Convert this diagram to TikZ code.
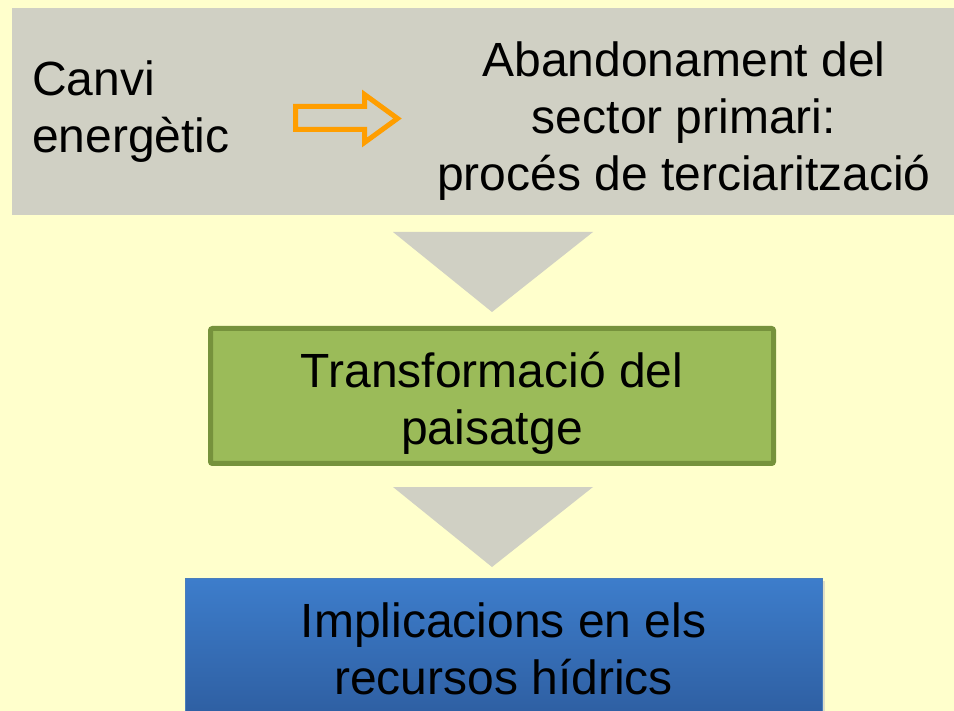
\documentclass[tikz,border=0pt]{standalone}
\usepackage{fontspec}
\setmainfont{Liberation Sans}
\definecolor{bgyellow}{RGB}{255,255,204}
\definecolor{boxgray}{RGB}{208,208,196}
\definecolor{arroworange}{RGB}{255,158,0}
\definecolor{greenfill}{RGB}{155,187,89}
\definecolor{greenline}{RGB}{118,146,60}
\definecolor{bluetop}{RGB}{61,125,203}
\definecolor{bluebot}{RGB}{45,92,158}
\definecolor{blueline}{RGB}{74,126,187}
\tikzset{
  bigtext/.style={font=\fontsize{48}{57}\selectfont, inner sep=0pt, align=center, text=black},
  graybox/.style={fill=boxgray, draw=none},
  downtri/.style={fill=boxgray, draw=none},
}
\begin{document}
\begin{tikzpicture}[x=1pt,y=-1pt]
\useasboundingbox (0,0) rectangle (954,711);
\fill[bgyellow] (0,0) rectangle (954,711);
% top gray box
\path[graybox] (12,8) rectangle (954,215);
\coordinate (topbox) at (483,111.5);
\node[bigtext, align=left, anchor=base west] (canvi) at (32,153) {Canvi\\energètic};
\node[bigtext, anchor=base] (aband) at (684,191) {Abandonament del\\sector primari:\\procés de terciarització};
% orange outline arrow
\draw[arroworange, line width=5pt, line join=miter]
  (295.5,106.5) -- (364.5,106.5) -- (364.5,94.5) -- (397.5,118.5)
  -- (364.5,142.5) -- (364.5,129.5) -- (295.5,129.5) -- cycle;
% triangle 1
\path[downtri] (393,232) -- (593,232) -- (492,312) -- cycle;
% green box
\node[draw=greenline, fill=greenfill, line width=5pt, rounded corners=2pt,
      minimum width=563pt, minimum height=135pt, inner sep=0pt] (green) at (492,396) {};
\node[bigtext, anchor=base] (transf) at (492,445) {Transformació del\\paisatge};
% triangle 2
\path[downtri] (393,487) -- (593,487) -- (492,567) -- cycle;
% blue box with shadow
\fill[black!25, opacity=0.5] (188,581) rectangle (825,730);
\node[draw=blueline, line width=0.8pt, top color=bluetop, bottom color=bluebot,
      minimum width=637pt, minimum height=150pt, inner sep=0pt, anchor=north west] (blue) at (185,578) {};
\node[bigtext, anchor=base] (impl) at (503.5,694) {Implicacions en els\\recursos hídrics};
\end{tikzpicture}
\end{document}
